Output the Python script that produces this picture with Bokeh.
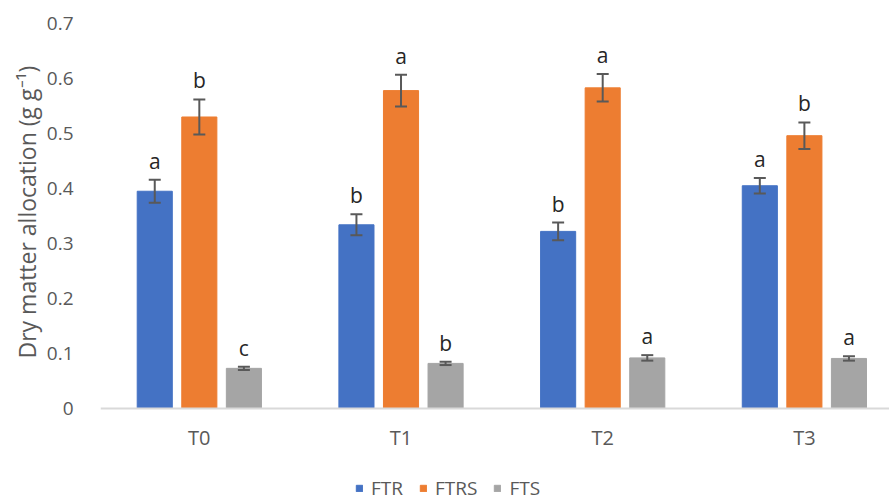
import numpy as np
from bokeh.plotting import figure
from bokeh.models import (ColumnDataSource, Range1d, FixedTicker, Whisker, TeeHead,
                          Legend, LegendItem, Title)
from bokeh.core.properties import value
from bokeh.embed import file_html
from bokeh.resources import INLINE

categories = ["T0", "T1", "T2", "T3"]
series_names = ["FTR", "FTRS", "FTS"]
colors = ["#4472C4", "#ED7D31", "#A5A5A5"]

ftr = [0.395, 0.334, 0.322, 0.405]
ftrs = [0.530, 0.578, 0.583, 0.496]
fts = [0.073, 0.082, 0.092, 0.091]

ftr_err = [0.021, 0.019, 0.016, 0.014]
ftrs_err = [0.032, 0.029, 0.025, 0.024]
fts_err = [0.003, 0.003, 0.005, 0.004]

ftr_letters = ["a", "b", "b", "a"]
ftrs_letters = ["b", "a", "a", "b"]
fts_letters = ["c", "b", "a", "a"]

yticks = [0, 0.1, 0.2, 0.3, 0.4, 0.5, 0.6, 0.7]
ytick_labels = ["0", "0.1", "0.2", "0.3", "0.4", "0.5", "0.6", "0.7"]
y_title = "Dry matter allocation (g g\u207b\u00b9)"

FONT = "Open Sans"
offsets = [-0.221, 0.0, 0.221]
bar_w = 0.174

# frame spans 23..501 px; value 0 sits at 408 px (0.7 over 385 px)
p = figure(width=889, height=501, output_backend="svg", toolbar_location=None,
           x_range=Range1d(-0.49, 3.422), y_range=Range1d(-0.1691, 0.7),
           min_border_left=100, min_border_right=0, min_border_top=23,
           min_border_bottom=0)
p.outline_line_color = None
p.grid.visible = False
p.background_fill_color = "white"
p.border_fill_color = "white"

cat_idx = np.arange(len(categories))
renderers = []
for vals, errs, letters, off, col in zip([ftr, ftrs, fts], [ftr_err, ftrs_err, fts_err],
                                         [ftr_letters, ftrs_letters, fts_letters],
                                         offsets, colors):
    v = np.array(vals)
    e = np.array(errs)
    src = ColumnDataSource(dict(x=cat_idx + off, top=v, upper=v + e, lower=v - e,
                                letter=letters))
    r = p.vbar(x="x", top="top", bottom=0, width=bar_w, source=src, fill_color=col,
               line_color=col, line_width=1)
    renderers.append(r)
    w = Whisker(base="x", upper="upper", lower="lower", source=src, level="overlay",
                line_color="#595959", line_width=2,
                upper_head=TeeHead(size=12, line_color="#595959", line_width=2),
                lower_head=TeeHead(size=12, line_color="#595959", line_width=2))
    p.add_layout(w)
    p.text(x="x", y="upper", text="letter", source=src, text_align="center",
           text_baseline="bottom", y_offset=-5, text_font=value(FONT),
           text_font_size="21px", text_color="#262626")

# y axis
p.yaxis.ticker = FixedTicker(ticks=yticks)
p.yaxis.major_label_overrides = {t: l for t, l in zip(yticks, ytick_labels)}
p.yaxis.axis_line_color = None
p.yaxis.major_tick_line_color = None
p.yaxis.minor_tick_line_color = None
p.yaxis.major_tick_in = 0
p.yaxis.major_tick_out = 0
p.yaxis.major_label_standoff = 27
p.yaxis.major_label_text_font = FONT
p.yaxis.major_label_text_font_size = "19px"
p.yaxis.major_label_text_color = "#595959"

# y title placed in the left panel, starting above the bottom so it centres on 0..0.7
p.add_layout(Title(text=y_title, align="left", offset=143, standoff=2,
                   text_font=FONT, text_font_size="23px", text_font_style="normal",
                   text_color="#595959"), "left")

# x axis, pinned at value 0
p.xaxis.fixed_location = 0
p.xaxis.ticker = FixedTicker(ticks=list(cat_idx))
p.xaxis.major_label_overrides = {int(i): c for i, c in zip(cat_idx, categories)}
p.xaxis.axis_line_color = "#D9D9D9"
p.xaxis.axis_line_width = 2
p.xaxis.major_tick_line_color = None
p.xaxis.minor_tick_line_color = None
p.xaxis.major_tick_in = 0
p.xaxis.major_tick_out = 0
p.xaxis.major_label_standoff = 16
p.xaxis.major_label_text_font = FONT
p.xaxis.major_label_text_font_size = "20px"
p.xaxis.major_label_text_color = "#595959"

legend = Legend(items=[LegendItem(label=n, renderers=[r]) for n, r in zip(series_names, renderers)],
                orientation="horizontal", location=(255, 0),
                glyph_width=8, glyph_height=8, label_standoff=8, spacing=16,
                padding=0, margin=0, border_line_color=None,
                background_fill_alpha=0,
                label_text_font=FONT, label_text_font_size="19px",
                label_text_color="#595959")
p.add_layout(legend, "center")

open("out.html", "w").write(file_html(p, INLINE))
